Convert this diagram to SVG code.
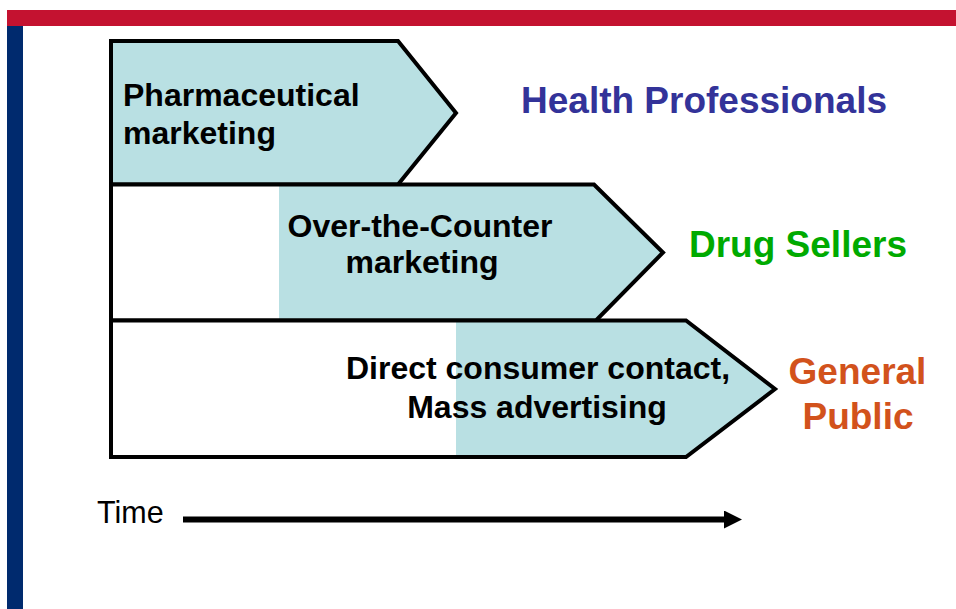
<svg xmlns="http://www.w3.org/2000/svg" width="956" height="609" viewBox="0 0 956 609">
<defs>
<style>
.outline{fill:none;stroke:#000;stroke-width:4;stroke-linejoin:miter}
.bg{fill:#fff}
.teal{fill:#b9e0e3}
.lbl{font-family:"Liberation Sans",Arial,sans-serif;font-weight:bold;font-size:32px;fill:#000}
.aud{font-family:"Liberation Sans",Arial,sans-serif;font-weight:bold;font-size:37px}
.time{font-family:"Liberation Sans",Arial,sans-serif;font-size:30.5px;fill:#000}
</style>
<marker id="arrow" viewBox="0 0 18 18" refX="0" refY="9" markerUnits="userSpaceOnUse" markerWidth="18" markerHeight="18" orient="auto">
<path d="M0,0 L18,9 L0,18 Z" fill="#000"/>
</marker>
</defs>
<rect x="0" y="0" width="956" height="609" fill="#fff"/>
<rect x="7" y="10" width="949" height="16" fill="#c41230"/>
<rect x="7" y="26" width="16" height="583" fill="#002a6e"/>

<g id="chevron-pharma">
<polygon class="teal" points="111,41 398,41 456,113 398,184.5 111,184.5"/>
<polygon class="outline" points="111,41 398,41 456,113 398,184.5 111,184.5"/>
<text class="lbl" x="123" y="106">Pharmaceutical</text>
<text class="lbl" x="123" y="144">marketing</text>
</g>

<g id="chevron-otc">
<polygon class="bg" points="111,184.5 594,184.5 663,252.5 596,320.5 111,320.5"/>
<polygon class="teal" points="279,184.5 594,184.5 663,252.5 596,320.5 279,320.5"/>
<polygon class="outline" points="111,184.5 594,184.5 663,252.5 596,320.5 111,320.5"/>
<text class="lbl" x="420" y="236.5" text-anchor="middle">Over-the-Counter</text>
<text class="lbl" x="422" y="273" text-anchor="middle">marketing</text>
</g>

<g id="chevron-dtc">
<polygon class="bg" points="111,320.5 686,320.5 775,389 686,457 111,457"/>
<polygon class="teal" points="456,320.5 686,320.5 775,389 686,457 456,457"/>
<polygon class="outline" points="111,320.5 686,320.5 775,389 686,457 111,457"/>
<text class="lbl" x="538" y="379" text-anchor="middle">Direct consumer contact,</text>
<text class="lbl" x="537" y="417.5" text-anchor="middle">Mass advertising</text>
</g>

<g id="aud-health">
<text class="aud" x="521" y="113" fill="#333399">Health Professionals</text>
</g>
<g id="aud-sellers">
<text class="aud" x="689" y="257" fill="#00aa00">Drug Sellers</text>
</g>
<g id="aud-public">
<text class="aud" x="857.5" y="384" text-anchor="middle" fill="#d2521c">General</text>
<text class="aud" x="858" y="429" text-anchor="middle" fill="#d2521c">Public</text>
</g>
<g id="time-label">
<text class="time" x="97" y="523">Time</text>
</g>

<g id="connectors">
<line x1="183" y1="519.5" x2="724" y2="519.5" stroke="#000" stroke-width="6" marker-end="url(#arrow)"/>
</g>
</svg>
